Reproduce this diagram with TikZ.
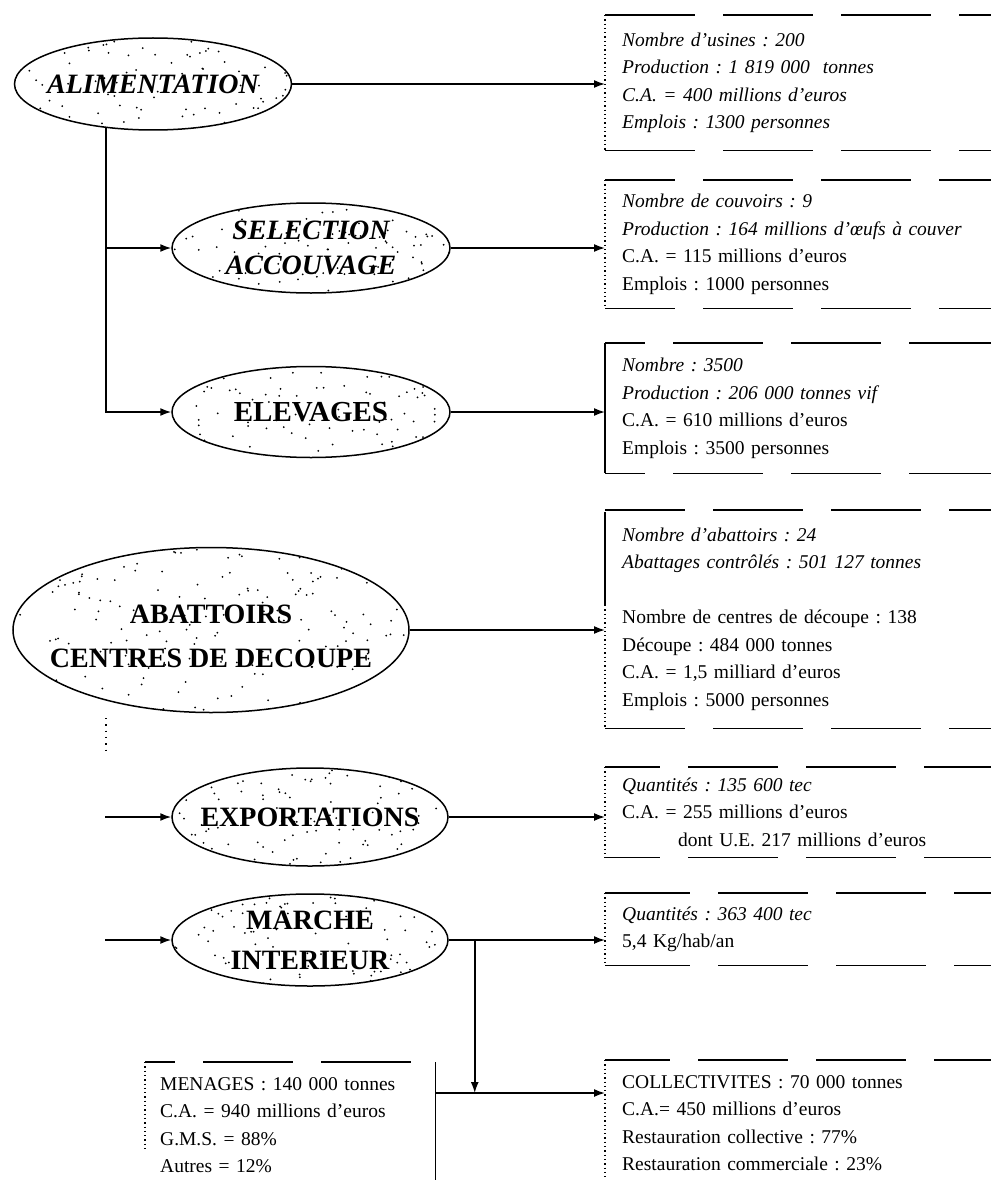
\documentclass[tikz,border=0pt]{standalone}
\usepackage{fontspec}
\setmainfont{Liberation Serif}[
  BoldFont={Liberation Serif Bold},
  ItalicFont={Liberation Serif Italic},
  BoldItalicFont={Liberation Serif Bold Italic}]
\usetikzlibrary{arrows.meta,shapes.geometric,calc}
\frenchspacing

\begin{document}
\begin{tikzpicture}[x=1pt,y=-1pt,
  link/.style={line width=1.6pt,-{Latex[length=11pt,width=8pt]}},
  stipple/.style={path picture={
      \foreach \k in {1,...,#1}{
        \pgfmathsetmacro{\rx}{rnd}\pgfmathsetmacro{\ry}{rnd}
        \fill let \p1=(path picture bounding box.south west),
                  \p2=(path picture bounding box.north east) in
          ({\x1+\rx*(\x2-\x1)},{\y1+\ry*(\y2-\y1)}) circle (1pt);
      }}},
  ell/.style={ellipse, draw, line width=1.5pt, inner sep=0pt, stipple=#1},
  ell/.default=100,
  etext/.style={align=center, text=black, font=\fontsize{29}{36}\selectfont\bfseries},
  infobox/.style={anchor=north west, inner xsep=17pt, inner ysep=0pt,
    text width=352pt, align=left, font=\fontsize{19.5}{27.5}\selectfont},
  hline/.style={line width=1.3pt, dash pattern=on 90pt off 28pt},
  vline/.style={line width=1.2pt, dash pattern=on 1.3pt off 3pt},
  sline/.style={line width=1.3pt}
]
\useasboundingbox (0,0) rectangle (991,1180);
\pgfmathsetseed{4711}

% ---- production chain ----
\node[ell, minimum width=277pt, minimum height=92pt] (alim) at (153,84) {};
\node[etext, font=\fontsize{28}{36}\selectfont\bfseries\itshape] (alim-t) at (alim) {ALIMENTATION};

\node[ell, minimum width=278pt, minimum height=90pt] (sel) at (311,248) {};
\node[etext, font=\fontsize{28}{35}\selectfont\bfseries\itshape] (sel-t) at (sel) {SELECTION\\ACCOUVAGE};

\node[ell, minimum width=278pt, minimum height=91pt] (elev) at (311,412) {};
\node[etext] (elev-t) at (elev) {ELEVAGES};

\node[ell=180, minimum width=396pt, minimum height=165pt] (abat) at (211,630) {};
\node[etext, font=\fontsize{28}{44}\selectfont\bfseries] (abat-t) at ([yshift=-6pt]abat.center) {ABATTOIRS\\CENTRES DE DECOUPE};

\node[ell, minimum width=276pt, minimum height=98pt] (exp) at (310,817) {};
\node[etext, font=\fontsize{28}{36}\selectfont\bfseries] (exp-t) at (exp) {EXPORTATIONS};

\node[ell, minimum width=276pt, minimum height=92pt] (mar) at (310,940) {};
\node[etext, font=\fontsize{28}{40}\selectfont\bfseries] (mar-t) at (mar) {MARCHE\\INTERIEUR};

% ---- figure boxes ----
\node[infobox, minimum height=135pt] (b1) at (605,15) {%
  \textit{Nombre d'usines : 200}\\
  \textit{Production : 1 819 000 \ tonnes}\\
  \textit{C.A. = 400 millions d'euros}\\
  \textit{Emplois : 1300 personnes}};
\node[infobox, minimum height=128pt] (b2) at (605,180) {%
  \textit{Nombre de couvoirs : 9}\\
  \textit{Production : 164 millions d'œufs à couver}\\
  C.A. = 115 millions d'euros\\
  Emplois : 1000 personnes};
\node[infobox, minimum height=130pt] (b3) at (605,343) {%
  \textit{Nombre : 3500}\\
  \textit{Production : 206 000 tonnes vif}\\
  C.A. = 610 millions d'euros\\
  Emplois : 3500 personnes};
\node[infobox, minimum height=218pt] (b4) at (605,510) {%
  \textit{Nombre d'abattoirs : 24}\\
  \textit{Abattages contrôlés : 501 127 tonnes}\\
  ~\\
  Nombre de centres de découpe : 138\\
  Découpe : 484 000 tonnes\\
  C.A. = 1,5 milliard d'euros\\
  Emplois : 5000 personnes};
\node[infobox, minimum height=90pt] (b5) at (605,767) {%
  \textit{Quantités : 135 600 tec}\\
  C.A. = 255 millions d'euros\\
  \hspace*{56pt}dont U.E. 217 millions d'euros};
\node[infobox, minimum height=72pt] (b6) at (605,893) {%
  \textit{Quantités : 363 400 tec}\\
  5,4 Kg/hab/an};
\node[infobox, minimum height=126pt] (b7) at (605,1060) {%
  COLLECTIVITES : 70 000 tonnes\\
  C.A.= 450 millions d'euros\\
  Restauration collective : 77\%\\
  Restauration commerciale : 23\%};
\node[infobox, inner xsep=15pt, text width=260pt, minimum height=126pt] (men) at (145,1062) {%
  MENAGES : 140 000 tonnes\\
  C.A. = 940 millions d'euros\\
  G.M.S. = 88\%\\
  Autres = 12\%};

% box outlines (open on the right)
\foreach \b/\ph in {b1/0pt,b2/20pt,b3/50pt,b4/10pt,b5/35pt,b6/5pt,b7/25pt}{
  \draw[hline, dash phase=\ph] (\b.north west) -- (\b.north east);
  \draw[hline, dash phase=\ph] (\b.south west) -- (\b.south east);
}
\foreach \b in {b1,b2,b5,b6,b7}{
  \draw[vline] (\b.north west) -- (\b.south west);
}
\draw[sline] (b3.north west) -- (b3.south west);
\draw[sline] ([yshift=-2pt]b4.north west) -- ([yshift=-95pt]b4.north west);
\draw[vline] ([yshift=-95pt]b4.north west) -- (b4.south west);
\draw[hline, dash phase=60pt] (men.north west) -- (men.north east);
\draw[vline] (men.north west) -- ([yshift=-88pt]men.north west);
\draw[sline] (men.north east) -- (men.south east);

% ---- connectors ----
\draw[link] (alim.east) -- (alim.east -| b1.west);
\draw[link] (alim.223) |- (sel.west);
\draw[link] (alim.223) |- (elev.west);
\draw[link] (sel.east) -- (sel.east -| b2.west);
\draw[link] (elev.east) -- (elev.east -| b3.west);
\draw[link] (abat.east) -- (abat.east -| b4.west);

\coordinate (d1) at (106,718);
\coordinate (d2) at (106,750);
\draw[line width=1.2pt, dash pattern=on 1.3pt off 5pt] (d1) -- (d2);

\coordinate (ein) at (105,817);
\coordinate (min) at (105,940);
\draw[link] (ein) -- (exp.west);
\draw[link] (min) -- (mar.west);
\draw[link] (exp.east) -- (exp.east -| b5.west);
\draw[link] (mar.east) -- (mar.east -| b6.west);

\path (mar.east) ++(26,0) coordinate (br);
\path (men.north east) ++(0,31) coordinate (h0);
\draw[link] (br) -- (br |- h0);
\draw[link] (h0) -- (h0 -| b7.west);
\end{tikzpicture}
\end{document}
